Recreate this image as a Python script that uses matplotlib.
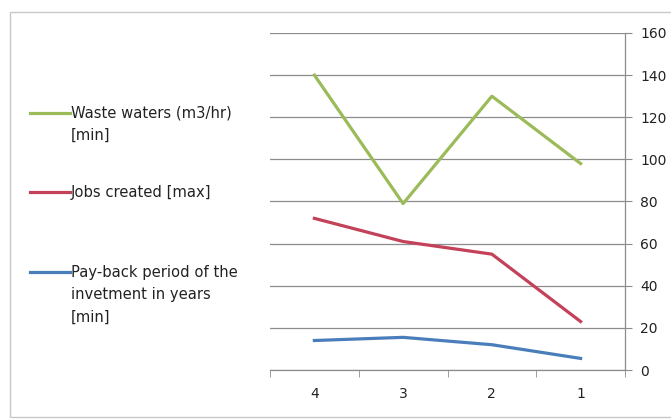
import matplotlib
matplotlib.use("Agg")
import matplotlib.pyplot as plt
from matplotlib.lines import Line2D
from matplotlib.patches import Rectangle

categories = ["4", "3", "2", "1"]
waste_waters = [140, 79, 130, 98]
jobs_created = [72, 61, 55, 23]
payback = [14, 15.5, 12, 5.5]
y_ticks = [0, 20, 40, 60, 80, 100, 120, 140, 160]

GREEN = "#9BBB59"
RED = "#C4415A"
BLUE = "#4A7EBB"
GRID = "#8C8C8C"
FONT = "DejaVu Sans"

fig = plt.figure(figsize=(6.71, 4.19), dpi=100)
fig.patch.set_facecolor("white")

# outer chart frame (right edge runs off the picture)
fig.patches.append(Rectangle((10 / 671, 2 / 419), 1.0, 405 / 419, transform=fig.transFigure,
                             fill=False, edgecolor="#C8C8C8", linewidth=1.0))

ax = fig.add_axes([270 / 671, 1 - 370 / 419, 355 / 671, 337 / 419])
x = range(len(categories))
ax.plot(x, waste_waters, color=GREEN, linewidth=2.3)
ax.plot(x, jobs_created, color=RED, linewidth=2.3)
ax.plot(x, payback, color=BLUE, linewidth=2.3)

ax.set_xlim(-0.5, 3.5)
ax.set_ylim(0, 160)
ax.yaxis.tick_right()
ax.set_yticks(y_ticks)
ax.set_yticklabels([str(v) for v in y_ticks], fontsize=10, family=FONT, color="#222222")
ax.set_xticks(list(x))
ax.set_xticklabels(categories, fontsize=10, family=FONT, color="#222222")
ax.set_xticks([i - 0.5 for i in range(len(categories) + 1)], minor=True)
ax.tick_params(axis="x", which="major", length=0, pad=12)
ax.tick_params(axis="x", which="minor", length=5, color=GRID, direction="out")
ax.tick_params(axis="y", length=5, color=GRID, direction="out", pad=6)
ax.grid(axis="y", color=GRID, linewidth=0.9)
ax.set_axisbelow(True)
for side in ["top", "left"]:
    ax.spines[side].set_visible(False)
for side in ["bottom", "right"]:
    ax.spines[side].set_color(GRID)
    ax.spines[side].set_linewidth(0.9)

# legend on the left
entries = [
    (GREEN, 113, ["Waste waters (m3/hr)", "[min]"]),
    (RED, 192, ["Jobs created [max]"]),
    (BLUE, 272, ["Pay-back period of the", "invetment in years", "[min]"]),
]
for color, ypix, lines in entries:
    yf = 1 - ypix / 419
    fig.lines.append(Line2D([30 / 671, 70 / 671], [yf, yf], transform=fig.transFigure,
                            color=color, linewidth=2.3))
    for i, txt in enumerate(lines):
        fig.text(71 / 671, 1 - (ypix + i * 22.5) / 419, txt, fontsize=10.6, family=FONT,
                 va="center", ha="left", color="#222222")

fig.savefig("out.png", dpi=100)
